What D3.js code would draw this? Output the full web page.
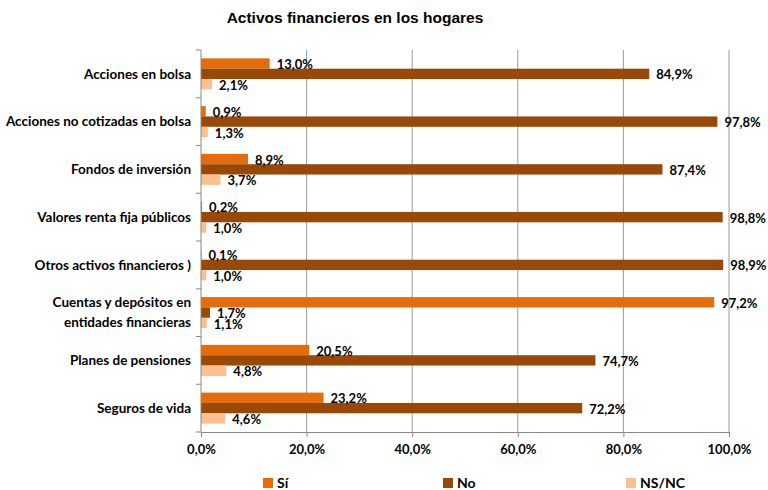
<!DOCTYPE html>
<html>
<head>
<meta charset="utf-8">
<script src="https://cdn.jsdelivr.net/npm/d3@7"></script>
<style>
  body { margin: 0; background: #fff; }
  svg text { font-family: Lato, "Open Sans", sans-serif; font-weight: bold; fill: #000; }
  .title { font-family: "Liberation Sans", Arial, sans-serif; }
</style>
</head>
<body>
<div id="chart"></div>
<script>
const categories = [
  "Acciones en bolsa",
  "Acciones no cotizadas en bolsa",
  "Fondos de inversión",
  "Valores renta fija públicos",
  "Otros activos financieros )",
  "Cuentas y depósitos en|entidades financieras",
  "Planes de pensiones",
  "Seguros de vida"
];
const seriesNames = ["Sí", "No", "NS/NC"];
const si   = [13.0, 0.9, 8.9, 0.2, 0.1, 97.2, 20.5, 23.2];
const no   = [84.9, 97.8, 87.4, 98.8, 98.9, 1.7, 74.7, 72.2];
const nsnc = [2.1, 1.3, 3.7, 1.0, 1.0, 1.1, 4.8, 4.6];
const xTicks = [0, 20, 40, 60, 80, 100];
const colors = ["#E46C0A", "#984807", "#FAC090"];

const W = 768, H = 490;
const margin = { top: 50, right: 39, bottom: 58, left: 201 };
const width = W - margin.left - margin.right;
const height = H - margin.top - margin.bottom;

const svg = d3.select("#chart").append("svg")
  .attr("width", W).attr("height", H);

svg.append("text").attr("class", "title")
  .attr("x", 355).attr("y", 23)
  .attr("text-anchor", "middle")
  .style("font-size", "15.5px")
  .text("Activos financieros en los hogares");

const g = svg.append("g").attr("transform", `translate(${margin.left},${margin.top})`);

const x = d3.scaleLinear().domain([0, 100]).range([0, width]);
const y = d3.scaleBand().domain(categories).range([0, height]).paddingInner(0.35).paddingOuter(0.175);
const ySub = d3.scaleBand().domain(seriesNames).range([0, y.bandwidth()]);

// gridlines
g.append("g").selectAll("line").data(xTicks.slice(1)).enter().append("line")
  .attr("x1", d => x(d)).attr("x2", d => x(d))
  .attr("y1", 0).attr("y2", height)
  .attr("stroke", "#9a9a9a").attr("stroke-width", 1);

const table = categories.map((c, i) => ({ cat: c, vals: [si[i], no[i], nsnc[i]] }));

const groups = g.append("g").selectAll("g").data(table).enter().append("g")
  .attr("transform", d => `translate(0,${y(d.cat)})`);

groups.selectAll("rect").data(d => d.vals.map((v, k) => ({ v, k }))).enter().append("rect")
  .attr("x", 0)
  .attr("y", d => ySub(seriesNames[d.k]))
  .attr("width", d => x(d.v))
  .attr("height", ySub.bandwidth())
  .attr("fill", d => colors[d.k]);

groups.selectAll("text.val").data(d => d.vals.map((v, k) => ({ v, k }))).enter().append("text")
  .attr("class", "val")
  .attr("x", d => x(d.v) + 7)
  .attr("y", d => ySub(seriesNames[d.k]) + ySub.bandwidth() / 2 + 1)
  .attr("dy", "0.35em")
  .style("font-size", "13px")
  .text(d => d.v.toFixed(1).replace(".", ",") + "%");

// y axis
const yAxis = g.append("g");
yAxis.append("line").attr("x1", 0).attr("x2", 0).attr("y1", 0).attr("y2", height)
  .attr("stroke", "#888");
const step = y.step();
d3.range(categories.length + 1).forEach(i => {
  yAxis.append("line").attr("x1", -5).attr("x2", 0)
    .attr("y1", i * step).attr("y2", i * step).attr("stroke", "#888");
});
categories.forEach(c => {
  const lines = c.split("|");
  const cy = y(c) + y.bandwidth() / 2;
  const t = yAxis.append("text")
    .attr("text-anchor", "end")
    .style("font-size", "13.5px")
    .attr("x", -10);
  lines.forEach((ln, j) => {
    t.append("tspan").attr("x", -10)
      .attr("y", cy + (j - (lines.length - 1) / 2) * 20)
      .attr("dy", "0.35em")
      .text(ln);
  });
});

// x axis
const xAxis = g.append("g").attr("transform", `translate(0,${height})`)
  .call(d3.axisBottom(x).tickValues(xTicks).tickSize(5)
    .tickFormat(d => d.toFixed(1).replace(".", ",") + "%"));
xAxis.select(".domain").attr("stroke", "#888");
xAxis.selectAll(".tick line").attr("stroke", "#888");
xAxis.selectAll(".tick text")
  .attr("y", 13)
  .style("font-size", "13px")
  .style("font-family", "Lato, 'Open Sans', sans-serif")
  .style("font-weight", "bold");

// legend
const legendX = [263, 443, 626];
const legend = svg.append("g").attr("transform", `translate(0,${H - 7})`);
seriesNames.forEach((s, i) => {
  legend.append("rect").attr("x", legendX[i]).attr("y", -5).attr("width", 10).attr("height", 10)
    .attr("fill", colors[i]);
  legend.append("text").attr("x", legendX[i] + 14).attr("y", 0).attr("dy", "0.35em")
    .style("font-size", "14px").text(s);
});
</script>
</body>
</html>
